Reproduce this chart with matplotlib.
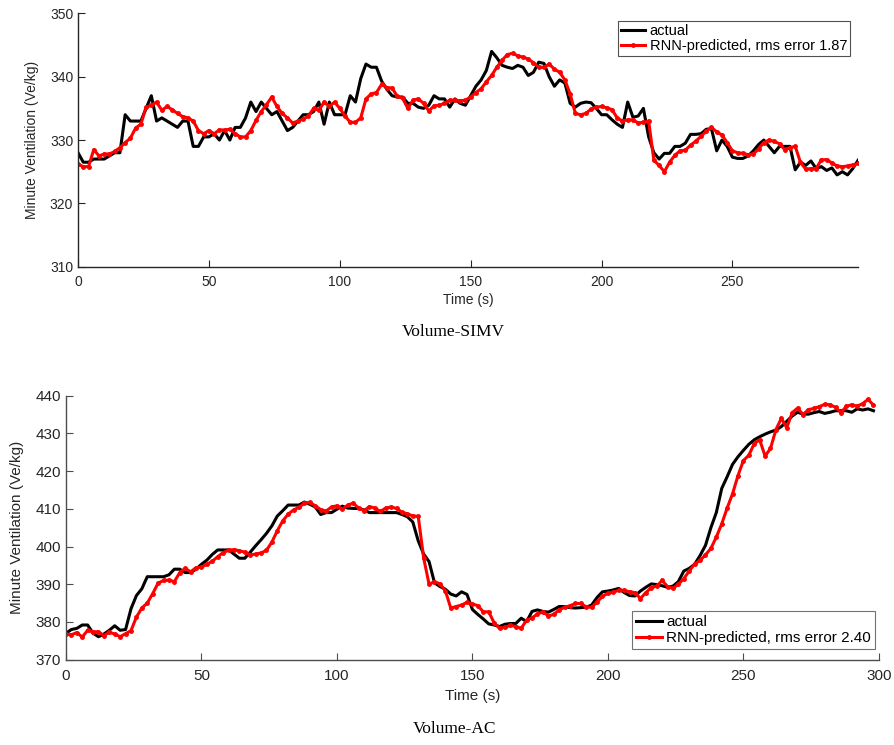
#!/usr/bin/env python3
import numpy as np
import matplotlib
matplotlib.use('Agg')
import matplotlib.pyplot as plt

plt.rcParams['font.family'] = ['Liberation Sans', 'DejaVu Sans']

# time grid, one sample every 2 s
t = np.arange(0, 300, 2)

# Volume-SIMV
simv_actual = [
    328, 326.5, 326.5, 327, 327, 327, 327.5, 328, 328, 334,
    333, 333, 333, 335, 337, 333, 333.5, 333, 332.5, 332,
    333, 333, 329, 329, 330.5, 330.5, 331, 330, 331.5, 330,
    332, 332, 333.5, 336, 334.5, 336, 335, 334, 334.5, 333,
    331.5, 332, 333, 334, 334, 334.5, 336, 332.5, 336, 334,
    334, 334, 337, 336, 339.7, 342, 341.5, 341.5, 339.3, 338,
    337, 336.8, 336.8, 335.8, 335.8, 335.2, 335, 335.5, 337, 336.5,
    336.5, 335.2, 336.5, 335.8, 335.5, 337, 338.5, 339.5, 341, 344,
    343, 341.8, 341.5, 341.3, 341.8, 341.5, 340.2, 340.7, 342.3, 342.1,
    340, 338.5, 339.5, 339, 335.8, 335.2, 335.8, 336, 335.9, 335,
    334, 334, 333.2, 332.5, 332, 336, 333.6, 333.8, 335, 330.5,
    328, 327, 327.9, 327.9, 329, 329, 329.5, 330.9, 330.9, 331,
    331.7, 331.8, 328.3, 330, 329, 327.3, 327.1, 327.1, 327.5, 328.3,
    329.3, 330, 329, 328, 329, 329, 329, 325.3, 326.5, 326,
    326.7, 325.5, 325.8, 325.2, 325.6, 324.5, 325, 324.5, 325.5, 326.8,
]
simv_pred = [
    326.2, 325.8, 325.8, 328.5, 327.5, 327.8, 327.8, 328.2, 328.8, 329.6,
    330.3, 331.9, 332.5, 335.2, 335.5, 336, 334.7, 335.3, 334.8, 334.2,
    333.7, 333.5, 333, 331.5, 331, 331.5, 331, 331.6, 331.6, 331.7,
    331, 330.5, 330.5, 331.5, 333.1, 334.5, 335.6, 336.8, 335.3, 334.2,
    333.5, 332.7, 333, 333.3, 333.8, 335, 334.7, 336, 335.3, 336,
    335, 333.8, 332.8, 332.8, 333.5, 336.5, 337.3, 337.5, 338.8, 338.3,
    338.2, 336.9, 336.6, 335, 336.3, 336.5, 335.8, 334.6, 335.4, 335.5,
    335.8, 336.3, 336.3, 336.2, 336.3, 336.8, 337.5, 338.1, 339.2, 340.2,
    341.5, 342.6, 343.5, 343.7, 343.3, 343.1, 342.8, 342.2, 341.5, 341.5,
    342, 341.2, 340.7, 339.5, 337.3, 334.2, 334, 334.2, 334.9, 335.2,
    335.3, 335.1, 334.8, 333.5, 333, 333.2, 333.2, 332.7, 332.8, 333,
    326.8, 326, 325, 326.5, 327.6, 328.3, 328.4, 329.2, 329.8, 330.6,
    331.4, 332, 331.3, 330.8, 329.6, 328.3, 328, 327.9, 327.7, 327.8,
    328.6, 329.6, 330, 329.8, 329.4, 328.5, 328.8, 329, 326.5, 325.4,
    325.5, 325.5, 326.9, 326.9, 326.4, 325.9, 325.8, 325.9, 326.1, 326.3,
]

# Volume-AC
ac_actual = [
    377, 378, 378.3, 379.2, 379.2, 377, 376.1, 376.8, 377.8, 379,
    377.8, 378, 383.5, 387, 388.8, 392, 392, 392, 392, 392.5,
    394, 394, 393.1, 393.1, 394, 395.3, 396.4, 397.9, 399.1, 399.1,
    399.1, 398, 396.9, 396.9, 398.5, 400.2, 401.8, 403.5, 405.5, 408.1,
    409.5, 411, 411, 411, 411.8, 411.2, 410.5, 408.5, 409, 409,
    409.9, 410.7, 410.2, 410.1, 410.1, 409.7, 409, 409, 409, 409,
    409, 409, 408.5, 407.9, 406.5, 401.5, 398, 396, 390.4, 389.4,
    388.7, 387.4, 386.9, 388, 387.3, 383.3, 382, 380.8, 379.5, 379.2,
    378.8, 379.4, 379.6, 379.6, 381, 380.1, 382.8, 383.2, 382.8, 382.6,
    383.3, 384.1, 384.1, 383.8, 383.7, 383.8, 383.9, 384.5, 386.5, 388,
    388.2, 388.5, 388.9, 387.8, 387, 386.9, 388.2, 389.2, 390.1, 389.9,
    389.6, 389.2, 389.5, 390.7, 393.5, 394.2, 395.3, 397.6, 400.3, 405,
    409, 415.4, 418.5, 421.8, 423.8, 425.5, 427.1, 428.3, 429.1, 429.8,
    430.4, 430.9, 431.8, 433.2, 434.6, 435.6, 435.1, 435.1, 435.5, 435.8,
    435.3, 435.6, 436, 436, 436, 435.6, 436.5, 436.2, 436.5, 436,
]
ac_pred = [
    376.8, 376.6, 377.2, 376, 377.8, 377.4, 377.4, 376.4, 377.3, 376.8,
    376.1, 376.9, 377.7, 381.3, 383.7, 385, 387.5, 390.3, 391, 391.1,
    390.7, 393.1, 394.2, 393.3, 394.4, 394.5, 395.3, 396.1, 397.3, 398.4,
    399, 399.2, 398.9, 398.5, 397.8, 398, 398.3, 399, 401.2, 404.2,
    406.8, 408.6, 409.7, 410.4, 411.5, 411.7, 410.8, 409.8, 409.4, 410.5,
    410.8, 409.9, 411, 411.5, 410.2, 409.5, 410.6, 410.2, 409.3, 410.2,
    410.5, 410.1, 409.1, 408.7, 408.1, 408, 397, 390, 390.7, 390.1,
    388.3, 383.7, 384.1, 384.5, 385.2, 384.8, 384.3, 382.7, 382.7, 379.8,
    378.3, 378.6, 379.1, 378.8, 378.3, 380.5, 381.1, 382.1, 382.7, 381.6,
    382, 383.2, 383.9, 384.3, 384.9, 384.9, 384, 383.9, 385.3, 386.8,
    387.6, 387.9, 388.4, 388.4, 388, 387.8, 386.2, 387.8, 389.1, 389.5,
    391, 389.4, 388.9, 390, 391.5, 393.5, 395.4, 396.3, 397.8, 399.5,
    402.5, 406, 410.2, 414, 418.8, 422.8, 424.2, 427.3, 428.3, 424,
    426, 431, 434, 431.5, 435.5, 436.7, 435, 436.3, 436.6, 437.1,
    437.7, 437.6, 436.9, 435.5, 437.2, 437.6, 437.2, 437.9, 439, 437.5,
]

simv_label = 'RNN-predicted, rms error 1.87'
ac_label = 'RNN-predicted, rms error 2.40'

fig = plt.figure(figsize=(8.95, 7.45), dpi=100)
ax1 = fig.add_axes([0.0872, 0.642, 0.8715, 0.340])
ax2 = fig.add_axes([0.0737, 0.1145, 0.9083, 0.3544])


def style(ax, col, size, xpad):
    for s in ['top', 'right']:
        ax.spines[s].set_visible(False)
    for s in ['left', 'bottom']:
        ax.spines[s].set_color(col)
        ax.spines[s].set_linewidth(1.0)
    ax.tick_params(direction='in', length=5, width=0.8, color=col,
                   labelsize=size, labelcolor='#262626', pad=3.5)
    ax.tick_params(axis='x', pad=xpad)


ax1.plot(t, simv_actual, color='black', lw=2.2, label='actual')
ax1.plot(t, simv_pred, color='red', lw=2.2, marker='.', ms=5, label=simv_label)
ax1.set_xlim(0, 298)
ax1.set_ylim(310, 350)
ax1.set_xticks([0, 50, 100, 150, 200, 250])
ax1.set_yticks([310, 320, 330, 340, 350])
style(ax1, '#262626', 10, 6)
ax1.set_xlabel('Time (s)', fontsize=10, color='#262626', labelpad=3)
ax1.set_ylabel('Minute Ventilation (Ve/kg)', fontsize=10, color='#262626', labelpad=8)
leg1 = ax1.legend(loc='upper right', bbox_to_anchor=(0.99, 0.97), fontsize=10.5,
                  frameon=True, fancybox=False, edgecolor='#262626',
                  handlelength=1.7, borderpad=0.2, labelspacing=0.1,
                  handletextpad=0.3, borderaxespad=0)
leg1.get_frame().set_linewidth(0.8)

ax2.plot(t, ac_actual, color='black', lw=2.2, label='actual')
ax2.plot(t, ac_pred, color='red', lw=2.2, marker='.', ms=5, label=ac_label)
ax2.set_xlim(0, 300)
ax2.set_ylim(370, 440)
ax2.set_xticks([0, 50, 100, 150, 200, 250, 300])
ax2.set_yticks(np.arange(370, 441, 10))
style(ax2, '#4d4d4d', 11, 7)
ax2.set_xlabel('Time (s)', fontsize=11, color='#262626', labelpad=4)
ax2.set_ylabel('Minute Ventilation (Ve/kg)', fontsize=11, color='#262626', labelpad=8)
leg2 = ax2.legend(loc='lower right', bbox_to_anchor=(0.995, 0.04), fontsize=11,
                  frameon=True, fancybox=False, edgecolor='#4d4d4d',
                  handlelength=1.7, borderpad=0.25, labelspacing=0.15,
                  handletextpad=0.3, borderaxespad=0)
leg2.get_frame().set_linewidth(0.8)

fig.text(0.507, 0.555, 'Volume-SIMV', ha='center', va='center',
         family='Liberation Serif', fontsize=12.5)
fig.text(0.508, 0.021, 'Volume-AC', ha='center', va='center',
         family='Liberation Serif', fontsize=12.5)

fig.savefig('out.png', dpi=100)
